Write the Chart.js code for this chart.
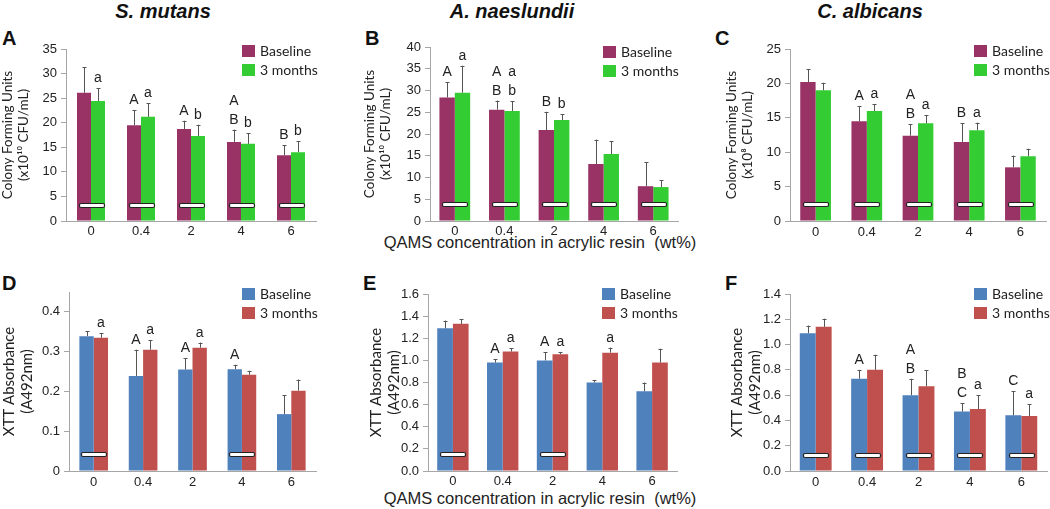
<!DOCTYPE html>
<html>
<head>
<meta charset="utf-8">
<script src="https://cdn.jsdelivr.net/npm/chart.js@4"></script>
<style>
body{margin:0;background:#fff;width:1050px;height:509px;position:relative;overflow:hidden;font-family:"Liberation Sans",Arial,sans-serif;color:#222}
.cv{position:absolute}
.t{position:absolute;font-weight:bold;font-style:italic;font-size:20px;line-height:20px;transform:translateX(-50%);white-space:nowrap;color:#111}
.lt{position:absolute;font-weight:bold;font-size:20px;line-height:20px;color:#111}
.xt{position:absolute;font-size:16.5px;line-height:18px;white-space:pre;transform:translateX(-50%)}
</style>
</head>
<body>
<div class="t" style="left:163px;top:1px">S. mutans</div>
<div class="t" style="left:512px;top:1px">A. naeslundii</div>
<div class="t" style="left:870px;top:1px">C. albicans</div>
<div class="lt" style="left:2px;top:28px">A</div>
<div class="lt" style="left:365px;top:28px">B</div>
<div class="lt" style="left:715px;top:28px">C</div>
<div class="lt" style="left:2px;top:273px">D</div>
<div class="lt" style="left:363px;top:273px">E</div>
<div class="lt" style="left:725px;top:273px">F</div>
<div class="xt" style="left:540px;top:233px">QAMS concentration in acrylic resin  (wt%)</div>
<div class="xt" style="left:540px;top:489px">QAMS concentration in acrylic resin  (wt%)</div>

<canvas class="cv" id="cA" width="345" height="230" style="left:0;top:25px"></canvas>
<canvas class="cv" id="cB" width="360" height="230" style="left:345px;top:25px"></canvas>
<canvas class="cv" id="cC" width="345" height="230" style="left:705px;top:25px"></canvas>
<canvas class="cv" id="cD" width="345" height="244" style="left:0;top:265px"></canvas>
<canvas class="cv" id="cE" width="360" height="244" style="left:345px;top:265px"></canvas>
<canvas class="cv" id="cF" width="345" height="244" style="left:705px;top:265px"></canvas>

<script>
// QAMS concentration (wt%)
var concLabels = ["0", "0.4", "2", "4", "6"];

// A - S. mutans CFU (x10^10 CFU/mL)
var aBase = [26.1, 19.5, 18.7, 16.1, 13.4];
var aBaseErr = [5.2, 3.0, 1.7, 2.5, 2.0];
var a3m = [24.4, 21.2, 17.3, 15.7, 14.0];
var a3mErr = [2.6, 2.8, 2.3, 2.2, 2.2];
var aBaseLet = ["", "A", "A", "A\nB", "B"];
var a3mLet = ["a", "a", "b", "b", "b"];
var aMark = [3.3, 3.3, 3.3, 3.3, 3.3];

// B - A. naeslundii CFU (x10^10 CFU/mL)
var bBase = [28.4, 25.6, 20.9, 13.1, 8.0];
var bBaseErr = [3.5, 2.1, 4.2, 5.6, 5.5];
var b3m = [29.5, 25.3, 23.2, 15.4, 7.8];
var b3mErr = [6.2, 2.2, 1.4, 2.9, 1.6];
var bBaseLet = ["A", "A\nB", "B", "", ""];
var b3mLet = ["a", "a\nb", "b", "", ""];
var bMark = [3.8, 3.8, 3.8, 3.8, 3.8];

// C - C. albicans CFU (x10^8 CFU/mL)
var cBase = [20.2, 14.5, 12.4, 11.5, 7.8];
var cBaseErr = [1.9, 2.2, 1.7, 2.7, 1.7];
var c3m = [19.0, 16.0, 14.2, 13.2, 9.4];
var c3mErr = [1.1, 1.0, 1.2, 1.1, 1.1];
var cBaseLet = ["", "A", "A\nB", "B", ""];
var c3mLet = ["", "a", "a", "a", ""];
var cMark = [2.4, 2.4, 2.4, 2.4, 2.4];

// D - S. mutans XTT (A492nm)
var dBase = [0.339, 0.239, 0.255, 0.256, 0.143];
var dBaseErr = [0.013, 0.066, 0.029, 0.011, 0.047];
var d3m = [0.335, 0.305, 0.310, 0.242, 0.202];
var d3mErr = [0.012, 0.024, 0.013, 0.010, 0.028];
var dBaseLet = ["", "A", "A", "A", ""];
var d3mLet = ["a", "a", "a", "", ""];
var dMark = [0.043, null, null, 0.043, null];

// E - A. naeslundii XTT (A492nm)
var eBase = [1.29, 0.98, 1.00, 0.80, 0.72];
var eBaseErr = [0.07, 0.03, 0.075, 0.02, 0.08];
var e3m = [1.33, 1.08, 1.055, 1.07, 0.98];
var e3mErr = [0.04, 0.03, 0.02, 0.045, 0.125];
var eBaseLet = ["", "A", "A", "", ""];
var e3mLet = ["", "a", "a", "a", ""];
var eMark = [0.153, null, 0.153, null, null];

// F - C. albicans XTT (A492nm)
var fBase = [1.09, 0.73, 0.60, 0.47, 0.44];
var fBaseErr = [0.06, 0.07, 0.13, 0.065, 0.19];
var f3m = [1.14, 0.80, 0.67, 0.49, 0.435];
var f3mErr = [0.065, 0.12, 0.125, 0.11, 0.095];
var fBaseLet = ["", "A", "A\nB", "B\nC", "C"];
var f3mLet = ["", "", "", "a", "a"];
var fMark = [0.129, 0.129, 0.129, 0.129, 0.129];

var maroon = "#993366", green = "#33cc33", blue = "#4f81bd", red = "#c0504d";
var axisGrey = "#a6a6a6";
var txtFont = "Liberation Sans";
var cfuTitle10 = ["Colony Forming Units", "(x10\u00b9\u2070 CFU/mL)"];
var cfuTitle8 = ["Colony Forming Units", "(x10\u2078 CFU/mL)"];
var xttTitle = ["XTT Absorbance", "(A492nm)"];

// error bars, letters, white markers and legend
function extras(o) {
	return {
		id: "extras",
		afterDatasetsDraw: function(chart) {
			var ctx = chart.ctx;
			var xs = chart.scales.x, ys = chart.scales.y;
			ctx.save();
			chart.data.datasets.forEach(function(ds, i) {
				var meta = chart.getDatasetMeta(i);
				meta.data.forEach(function(el, j) {
					var x = Math.round(el.x) + 0.5;
					var top = ys.getPixelForValue(ds.data[j] + ds.err[j]);
					ctx.strokeStyle = "#555";
					ctx.lineWidth = 1;
					ctx.beginPath();
					ctx.moveTo(x, el.y);
					ctx.lineTo(x, top);
					ctx.moveTo(x - 2, Math.round(top) + 0.5);
					ctx.lineTo(x + 2, Math.round(top) + 0.5);
					ctx.stroke();
					var lines = ds.letters[j] ? ds.letters[j].split("\n") : [];
					ctx.fillStyle = "#222";
					ctx.font = "14px " + txtFont;
					ctx.textAlign = "center";
					ctx.textBaseline = "alphabetic";
					for (var k = 0; k < lines.length; k++) {
						ctx.fillText(lines[k], el.x, top - 6 - (lines.length - 1 - k) * 19);
					}
				});
			});
			o.mark.forEach(function(v, j) {
				if (v === null) return;
				var cx = xs.getPixelForValue(j), cy = ys.getPixelForValue(v);
				ctx.beginPath();
				ctx.roundRect(Math.round(cx - o.mw / 2) + 0.5, Math.round(cy - 2) + 0.5, o.mw, 4, 1.5);
				ctx.fillStyle = "#fff";
				ctx.fill();
				ctx.strokeStyle = "#222";
				ctx.lineWidth = 1.2;
				ctx.stroke();
			});
			chart.data.datasets.forEach(function(ds, i) {
				var y = o.leg[1] + i * 19;
				ctx.fillStyle = ds.backgroundColor;
				ctx.fillRect(o.leg[0], y, 13, 12);
				ctx.fillStyle = "#222";
				ctx.font = "14px Lato";
				ctx.textAlign = "left";
				ctx.textBaseline = "middle";
				ctx.fillText(ds.label, o.leg[0] + 18, y + 6.5);
			});
			ctx.restore();
		}
	};
}

function panel(id, o) {
	return new Chart(document.getElementById(id), {
		type: "bar",
		data: {
			labels: concLabels,
			datasets: [
				{label: "Baseline", data: o.base, err: o.baseErr, letters: o.baseLet, backgroundColor: o.c1, categoryPercentage: o.cat, barPercentage: 1},
				{label: "3 months", data: o.m3, err: o.m3Err, letters: o.m3Let, backgroundColor: o.c2, categoryPercentage: o.cat, barPercentage: 1}
			]
		},
		options: {
			responsive: false,
			animation: false,
			layout: {padding: o.pad},
			plugins: {legend: {display: false}, tooltip: {enabled: false}},
			scales: {
				x: {
					grid: {display: true, drawOnChartArea: false, drawTicks: false},
					border: {color: axisGrey},
					ticks: {color: "#222", font: {family: txtFont, size: 13}, padding: o.xpad},
					afterFit: function(s) { s.height = 25; }
				},
				y: {
					min: 0, max: o.max,
					ticks: {stepSize: o.step, color: "#222", font: {family: txtFont, size: 13}, padding: 4,
						callback: o.fmt || function(v) { return v; }},
					afterBuildTicks: function(s) {
						s.ticks = s.ticks.filter(function(t) {
							var q = t.value / o.step;
							return Math.abs(q - Math.round(q)) < 1e-6;
						});
					},
					grid: {drawOnChartArea: false, tickLength: 5, color: axisGrey},
					border: {color: axisGrey},
					title: {display: true, text: o.ytitle, color: "#222",
						font: {family: "Lato", size: o.tsize, lineHeight: 1.15},
						padding: {top: o.tpad, bottom: 0}},
					afterFit: function(s) { s.width = o.yw; }
				}
			}
		},
		plugins: [extras(o)]
	});
}

var oneDec = function(v) { return v.toFixed(1); };

panel("cA", {base: aBase, baseErr: aBaseErr, m3: a3m, m3Err: a3mErr, baseLet: aBaseLet, m3Let: a3mLet, mark: aMark,
	c1: maroon, c2: green, cat: 0.56, max: 35, step: 5, ytitle: cfuTitle10, tsize: 13.5, tpad: 0, xpad: 3,
	yw: 66, pad: {left: 0, right: 29, top: 24, bottom: 9}, mw: 25, leg: [242, 20]});
panel("cB", {base: bBase, baseErr: bBaseErr, m3: b3m, m3Err: b3mErr, baseLet: bBaseLet, m3Let: b3mLet, mark: bMark,
	c1: maroon, c2: green, cat: 0.62, max: 40, step: 5, ytitle: cfuTitle10, tsize: 13.5, tpad: 17, xpad: 3,
	yw: 85, pad: {left: 0, right: 27, top: 22, bottom: 9}, mw: 25, leg: [258, 21]});
panel("cC", {base: cBase, baseErr: cBaseErr, m3: c3m, m3Err: c3mErr, baseLet: cBaseLet, m3Let: c3mLet, mark: cMark,
	c1: maroon, c2: green, cat: 0.6, max: 25, step: 5, ytitle: cfuTitle8, tsize: 13.5, tpad: 19, xpad: 4,
	yw: 85, pad: {left: 0, right: 4, top: 24, bottom: 9}, mw: 25, leg: [269, 20]});
panel("cD", {base: dBase, baseErr: dBaseErr, m3: d3m, m3Err: d3mErr, baseLet: dBaseLet, m3Let: d3mLet, mark: dMark,
	c1: blue, c2: red, cat: 0.58, max: 0.45, step: 0.1, ytitle: xttTitle, tsize: 15, tpad: 1, xpad: 4,
	yw: 69, pad: {left: 0, right: 29, top: 27, bottom: 13}, mw: 25, leg: [242, 23]});
panel("cE", {base: eBase, baseErr: eBaseErr, m3: e3m, m3Err: e3mErr, baseLet: eBaseLet, m3Let: e3mLet, mark: eMark,
	c1: blue, c2: red, cat: 0.63, max: 1.6, step: 0.2, fmt: oneDec, ytitle: xttTitle, tsize: 15, tpad: 23, xpad: 3,
	yw: 83, pad: {left: 0, right: 28, top: 29, bottom: 13}, mw: 25, leg: [257, 23]});
panel("cF", {base: fBase, baseErr: fBaseErr, m3: f3m, m3Err: f3mErr, baseLet: fBaseLet, m3Let: f3mLet, mark: fMark,
	c1: blue, c2: red, cat: 0.62, max: 1.4, step: 0.2, fmt: oneDec, ytitle: xttTitle, tsize: 15, tpad: 24, xpad: 4,
	yw: 85, pad: {left: 0, right: 3, top: 29, bottom: 13}, mw: 25, leg: [269, 23]});
</script>
</body>
</html>
